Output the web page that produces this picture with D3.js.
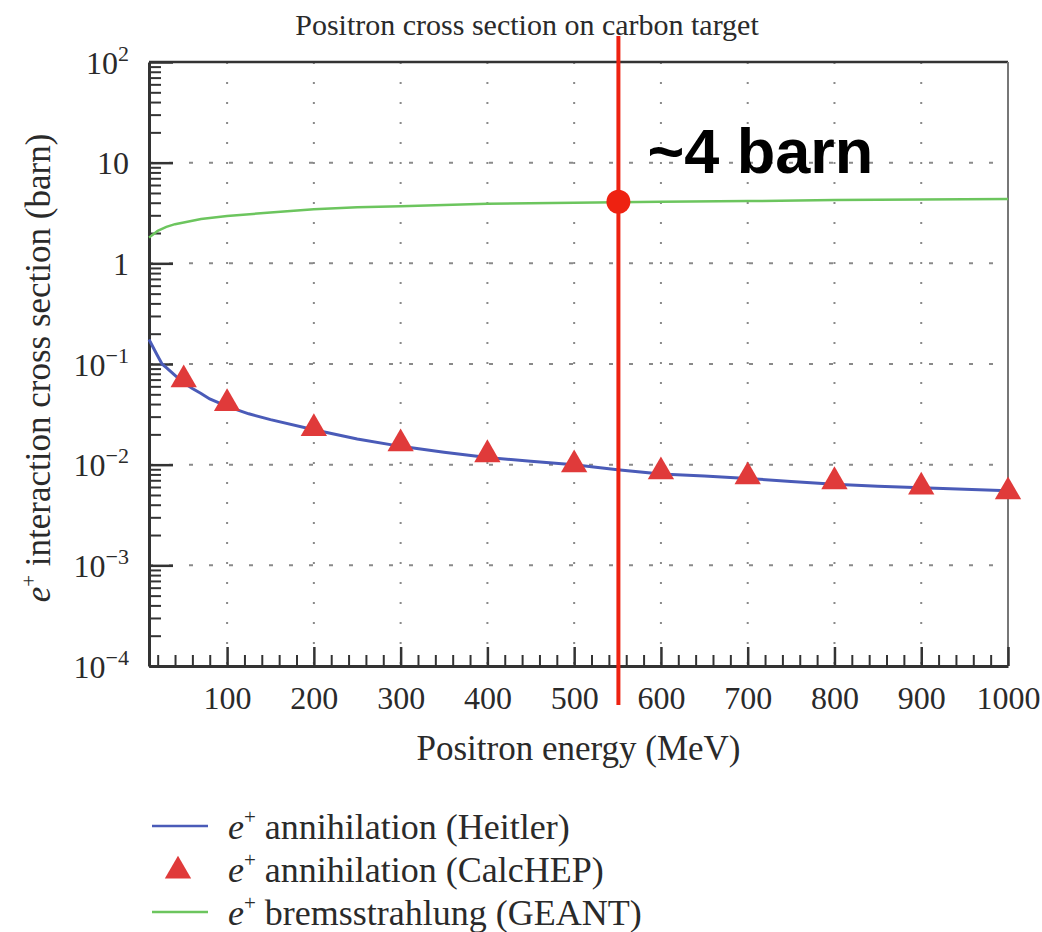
<!DOCTYPE html>
<html>
<head>
<meta charset="utf-8">
<script src="https://cdn.jsdelivr.net/npm/d3@7"></script>
<style>
body{margin:0;background:#fff;}
text{font-family:"Liberation Serif","Times New Roman",serif;fill:#2a2a2a;}
</style>
</head>
<body>
<div id="chart-area"></div>
<script>
// values
var energyHeitler=[10,15,20,25,30,40,50,60,70,80,100,125,150,200,250,300,350,400,450,500,550,600,650,700,750,800,850,900,950,1000];
var sigmaHeitler=[0.175,0.145,0.12,0.10,0.092,0.077,0.065,0.057,0.051,0.045,0.038,0.032,0.028,0.0222,0.018,0.0152,0.0133,0.0118,0.0108,0.0100,0.0089,0.0081,0.0077,0.0073,0.0068,0.0064,0.0061,0.0059,0.0057,0.0055];

var energyCalcHEP=[50,100,200,300,400,500,600,700,800,900,1000];
var sigmaCalcHEP=[0.070,0.0406,0.0229,0.0162,0.0126,0.0100,0.0085,0.0076,0.0068,0.0060,0.0054];

var energyGeant=[10,20,30,40,50,70,100,150,200,250,300,400,500,600,700,800,900,1000];
var sigmaGeant=[1.8,2.1,2.3,2.45,2.55,2.75,2.95,3.2,3.45,3.6,3.7,3.9,4.0,4.1,4.15,4.25,4.3,4.35];

var xMajor=[100,200,300,400,500,600,700,800,900,1000];
var yMajor=[1e-4,1e-3,1e-2,1e-1,1,10,100];
var yLabels=[["10","\u22124"],["10","\u22123"],["10","\u22122"],["10","\u22121"],["1",""],["10",""],["10","2"]];

var markX=551, markY=4.1, markText="~4 barn";

var legendItems=[
	{type:"line",color:"#4a5bb8",text:" annihilation (Heitler)"},
	{type:"tri",color:"#e03a3a",text:" annihilation (CalcHEP)"},
	{type:"line",color:"#6cc55e",text:" bremsstrahlung (GEANT)"}
];

var margin={left:149,top:62};
var width=859, height=604;

var svg=d3.select("#chart-area").append("svg")
	.attr("width",1042)
	.attr("height",932);

svg.append("rect").attr("width",1042).attr("height",932).attr("fill","#fff");

var g=svg.append("g")
	.attr("transform","translate("+margin.left+","+margin.top+")");

var x=d3.scaleLinear().domain([10,1000]).range([0,width]);
var y=d3.scaleLog().domain([1e-4,1e2]).range([height,0]);

// grid
g.selectAll(".vgrid").data(xMajor.filter(function(d){return d<1000;}))
	.enter().append("line")
	.attr("x1",function(d){return x(d);}).attr("x2",function(d){return x(d);})
	.attr("y1",0).attr("y2",height)
	.attr("stroke","#8a8a8a").attr("stroke-width",2)
	.attr("stroke-dasharray","2,18");

g.selectAll(".hgrid").data(yMajor.filter(function(d){return d>1e-4&&d<100;}))
	.enter().append("line")
	.attr("x1",0).attr("x2",width)
	.attr("y1",function(d){return y(d);}).attr("y2",function(d){return y(d);})
	.attr("stroke","#8a8a8a").attr("stroke-width",2)
	.attr("stroke-dasharray","4,16");

// frame top / right
g.append("line").attr("x1",0).attr("x2",width).attr("y1",0).attr("y2",0)
	.attr("stroke","#333").attr("stroke-width",2.5);
g.append("line").attr("x1",width).attr("x2",width).attr("y1",0).attr("y2",height)
	.attr("stroke","#777").attr("stroke-width",2);

// minor ticks
var yMinor=[];
[1e-4,1e-3,1e-2,1e-1,1,10].forEach(function(dec){
	for(var k=2;k<10;k++){yMinor.push(dec*k);}
});
var xMinor=d3.range(20,1000,20).filter(function(d){return d%100!==0;});

g.append("g")
	.call(d3.axisLeft(y).tickValues(yMinor).tickSizeInner(-12).tickSizeOuter(0).tickFormat(""))
	.call(function(a){a.select(".domain").remove();})
	.selectAll("line").attr("stroke","#333").attr("stroke-width",2);

g.append("g")
	.attr("transform","translate(0,"+height+")")
	.call(d3.axisBottom(x).tickValues(xMinor).tickSizeInner(-11).tickSizeOuter(0).tickFormat(""))
	.call(function(a){a.select(".domain").remove();})
	.selectAll("line").attr("stroke","#333").attr("stroke-width",2);

// major axes
var leftAxis=g.append("g")
	.call(d3.axisLeft(y).tickValues(yMajor).tickSizeInner(-24).tickSizeOuter(0).tickPadding(20).tickFormat(""));
leftAxis.select(".domain").attr("stroke","#333").attr("stroke-width",3);
leftAxis.selectAll("line").attr("stroke","#333").attr("stroke-width",2.5);
leftAxis.selectAll(".tick text")
	.attr("font-size","32px")
	.attr("dy",null)
	.attr("y",11)
	.each(function(d,i){
		var t=d3.select(this);
		t.append("tspan").text(yLabels[i][0]);
		if(yLabels[i][1]){
			t.append("tspan").attr("font-size","22px").attr("dy",-13).text(yLabels[i][1]);
		}
	});

var bottomAxis=g.append("g")
	.attr("transform","translate(0,"+height+")")
	.call(d3.axisBottom(x).tickValues(xMajor).tickSizeInner(-19).tickSizeOuter(0).tickPadding(0).tickFormat(d3.format("d")));
bottomAxis.select(".domain").attr("stroke","#333").attr("stroke-width",3);
bottomAxis.selectAll("line").attr("stroke","#333").attr("stroke-width",2.5);
bottomAxis.selectAll(".tick text")
	.attr("font-size","32px")
	.attr("dy",null)
	.attr("y",43)
	.attr("fill","#2a2a2a");

// series
var line=d3.line()
	.x(function(d){return x(d[0]);})
	.y(function(d){return y(d[1]);});

g.append("path")
	.datum(d3.zip(energyGeant,sigmaGeant))
	.attr("d",line)
	.attr("fill","none")
	.attr("stroke","#6cc55e")
	.attr("stroke-width",2.5);

g.append("path")
	.datum(d3.zip(energyHeitler,sigmaHeitler))
	.attr("d",line)
	.attr("fill","none")
	.attr("stroke","#4a5bb8")
	.attr("stroke-width",3);

var tri=d3.symbol().type(d3.symbolTriangle).size(300);

g.selectAll(".tri").data(d3.zip(energyCalcHEP,sigmaCalcHEP))
	.enter().append("path")
	.attr("d",tri)
	.attr("transform",function(d){return "translate("+x(d[0])+","+y(d[1])+")";})
	.attr("fill","#e03a3a");

// annotation
g.append("line")
	.attr("x1",x(markX)).attr("x2",x(markX))
	.attr("y1",-26).attr("y2",height+39)
	.attr("stroke","#ee2211").attr("stroke-width",4);
g.append("circle")
	.attr("cx",x(markX)).attr("cy",y(markY))
	.attr("r",12)
	.attr("fill","#ee2211");
g.append("text")
	.attr("x",x(markX)+29)
	.attr("y",y(10)+10)
	.attr("font-size","63px")
	.attr("font-weight","bold")
	.style("font-family","'Liberation Sans',Arial,sans-serif")
	.style("fill","#000")
	.text(markText);

// titles
svg.append("text")
	.attr("x",527).attr("y",35)
	.attr("font-size","30px")
	.attr("text-anchor","middle")
	.text("Positron cross section on carbon target");

svg.append("text")
	.attr("x",margin.left+width/2).attr("y",760)
	.attr("font-size","35px")
	.attr("text-anchor","middle")
	.text("Positron energy (MeV)");

var yTitle=svg.append("text")
	.attr("transform","translate(50,"+(margin.top+height/2+4)+") rotate(-90)")
	.attr("font-size","35px")
	.attr("text-anchor","middle");
yTitle.append("tspan").attr("font-style","italic").text("e");
yTitle.append("tspan").attr("font-size","21px").attr("dy",-14).text("+");
yTitle.append("tspan").attr("dy",14).text(" interaction cross section (barn)");

// legend
var legend=svg.append("g").attr("transform","translate(152,826)");
legendItems.forEach(function(d,i){
	var row=legend.append("g").attr("transform","translate(0,"+(i*43)+")");
	if(d.type=="line"){
		row.append("line").attr("x1",0).attr("x2",56).attr("y1",0).attr("y2",0)
			.attr("stroke",d.color).attr("stroke-width",2.5);
	} else {
		row.append("path").attr("d",tri).attr("transform","translate(26,2)").attr("fill",d.color);
	}
	var t=row.append("text").attr("x",76).attr("y",13).attr("font-size","36px");
	t.append("tspan").attr("font-style","italic").text("e");
	t.append("tspan").attr("font-size","21px").attr("dy",-15).text("+");
	t.append("tspan").attr("dy",15).text(d.text);
});
</script>
</body>
</html>
